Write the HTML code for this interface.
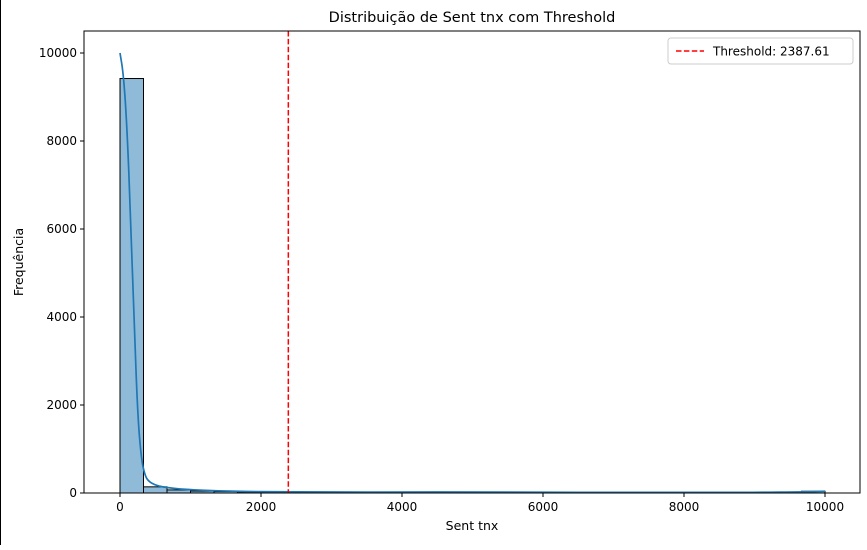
<!DOCTYPE html>
<html><head><meta charset="utf-8"><style>
body{margin:0;background:#fff;font-family:"Liberation Sans","DejaVu Sans",sans-serif;}
svg text{font-family:"DejaVu Sans","Liberation Sans",sans-serif;}
</style></head><body>
<svg id="c" width="867" height="545">
<rect x="0" y="0" width="867" height="545" fill="#fff"/>
<line x1="0.5" y1="0" x2="0.5" y2="545" stroke="#000"/>
</svg>
<script>
const binCounts=[9420,140,70,45,35,25,18,12,10,8,7,6,6,5,5,5,6,5,4,4,3,3,3,3,3,3,3,3,3,40];
const kdeX=[0,50,100,150,200,250,300,350,400,500,600,700,900,1200,1600,2000,3000,4000,5000,6000,7000,8000,9000,9700,10000];
const kdeY=[10000,9500,8300,6300,3900,1800,800,420,270,180,140,115,85,60,40,30,20,22,25,18,14,12,14,25,40];
const xTicks=[0,2000,4000,6000,8000,10000];
const yTicks=[0,2000,4000,6000,8000,10000];
const threshold=2387.61;
const binWidth=10000/30;
const NS="http://www.w3.org/2000/svg";
const svg=document.getElementById('c');
const L=84,R=860,T=31,B=493;
const xs=v=>120+v*(825-120)/10000;
const ys=v=>493-v*(493-53)/10000;
function el(t,a,p){const e=document.createElementNS(NS,t);for(const k in a)e.setAttribute(k,a[k]);(p||svg).appendChild(e);return e;}
binCounts.forEach((c,i)=>{
 const r=el('rect',{x:xs(i*binWidth),y:ys(c),width:xs((i+1)*binWidth)-xs(i*binWidth),height:ys(0)-ys(c),fill:'rgba(31,119,180,0.5)',stroke:'#000','stroke-width':1});
 
 
});
let kd='M'+xs(kdeX[0])+','+ys(kdeY[0]);
for(let i=1;i<kdeX.length;i++){
 const x0=xs(kdeX[i-1]),y0=ys(kdeY[i-1]),x1=xs(kdeX[i]),y1=ys(kdeY[i]);
 const xm=(x0+x1)/2;
 kd+=' Q'+x0.toFixed(1)+','+y0.toFixed(1)+' '+xm.toFixed(1)+','+((y0+y1)/2).toFixed(1);
}
kd+=' L'+xs(kdeX[kdeX.length-1]).toFixed(1)+','+ys(kdeY[kdeY.length-1]).toFixed(1);
const kp=el('path',{d:kd,fill:'none',stroke:'#1f77b4','stroke-width':1.7,'stroke-linejoin':'round'});


const th=el('line',{x1:xs(threshold),x2:xs(threshold),y1:T,y2:B,stroke:'#ff0000','stroke-width':1.5,'stroke-dasharray':'5.5,2.4'});


const fr=el('rect',{x:L,y:T,width:R-L,height:B-T,fill:'none',stroke:'#000','stroke-width':1});


xTicks.forEach(v=>{
 el('line',{x1:xs(v),x2:xs(v),y1:B,y2:B+4,stroke:'#000'});
 const t=el('text',{x:xs(v),y:B+18,'text-anchor':'middle','font-size':12});t.textContent=v;
 
 
});
yTicks.forEach(v=>{
 el('line',{x1:L-4,x2:L,y1:ys(v),y2:ys(v),stroke:'#000'});
 const t=el('text',{x:L-7,y:ys(v)+4,'text-anchor':'end','font-size':12});t.textContent=v;
 
 
});
const tt=el('text',{x:(L+R)/2,y:22,'text-anchor':'middle','font-size':14.5});tt.textContent='Distribuição de Sent tnx com Threshold';


const xl=el('text',{x:(L+R)/2,y:530,'text-anchor':'middle','font-size':12.5});xl.textContent='Sent tnx';


const yl=el('text',{x:23,y:262,'text-anchor':'middle','font-size':12.5,transform:'rotate(-90 23 262)'});yl.textContent='Frequência';


const lg=el('g',{});


el('rect',{x:668,y:38,width:185,height:26,rx:3,fill:'#fff',stroke:'#ccc'},lg);
el('line',{x1:676,x2:704,y1:51,y2:51,stroke:'#ff0000','stroke-width':1.5,'stroke-dasharray':'5.5,2.4'},lg);
const lt=el('text',{x:713,y:55.5,'font-size':12},lg);lt.textContent='Threshold: 2387.61';


</script>
</body></html>
